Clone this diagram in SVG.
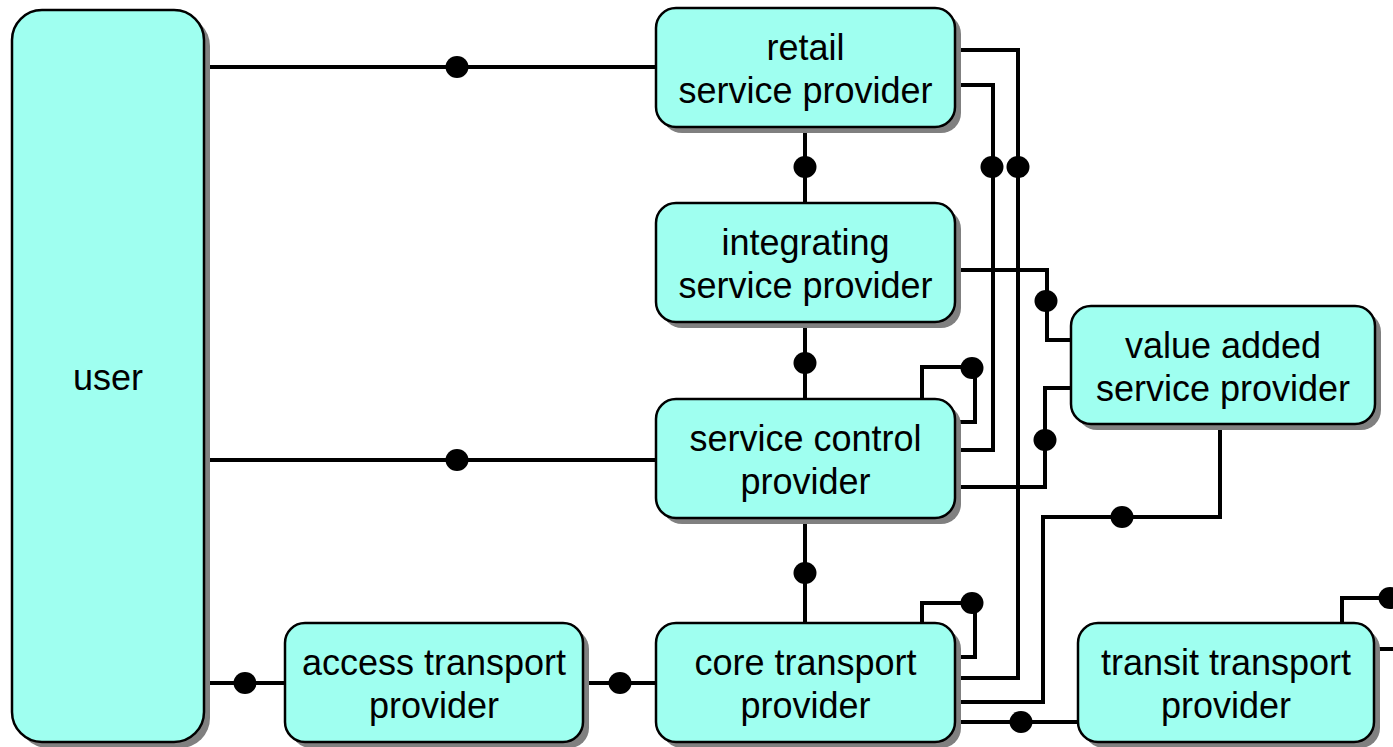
<svg xmlns="http://www.w3.org/2000/svg" width="1393" height="747" viewBox="0 0 1393 747">
<style>
.c{fill:none;stroke:#000;stroke-width:4;stroke-linejoin:miter}
.d{fill:#000}
.sh{fill:#808080}
.bx{fill:#9ffff0;stroke:#000;stroke-width:2.5}
.t{font-family:"Liberation Sans",Arial,sans-serif;font-size:36px;fill:#000;text-anchor:middle}
</style>
<rect width="1393" height="747" fill="#fff"/>
<g id="connectors">
<path class="c" d="M204,67H656"/><ellipse class="d" cx="457" cy="67" rx="11.5" ry="11"/>
<path class="c" d="M204,460H656"/><ellipse class="d" cx="457" cy="460" rx="11.5" ry="11"/>
<path class="c" d="M204,683H285"/><ellipse class="d" cx="245" cy="683" rx="11.5" ry="11"/>
<path class="c" d="M583,683H656"/><ellipse class="d" cx="620" cy="683" rx="11.5" ry="11"/>
<path class="c" d="M805,127V203"/><ellipse class="d" cx="805" cy="167" rx="11.5" ry="11"/>
<path class="c" d="M805,322V399"/><ellipse class="d" cx="805" cy="363" rx="11.5" ry="11"/>
<path class="c" d="M805,518V623"/><ellipse class="d" cx="805" cy="573" rx="11.5" ry="11"/>
<path class="c" d="M955,50H1018V678H955"/><ellipse class="d" cx="1018" cy="167" rx="11.5" ry="11"/>
<path class="c" d="M955,85H993V450H955"/><ellipse class="d" cx="992" cy="167" rx="11.5" ry="11"/>
<path class="c" d="M955,270H1047V340H1071"/><ellipse class="d" cx="1046" cy="301" rx="11.5" ry="11"/>
<path class="c" d="M955,487H1045V388H1071"/><ellipse class="d" cx="1045" cy="440" rx="11.5" ry="11"/>
<path class="c" d="M922,399V367H975V422H955"/><ellipse class="d" cx="972" cy="368" rx="11.5" ry="11"/>
<path class="c" d="M922,623V603H975V657H955"/><ellipse class="d" cx="972" cy="603" rx="11.5" ry="11"/>
<path class="c" d="M955,702H1043V517H1220V424"/><ellipse class="d" cx="1122" cy="517" rx="11.5" ry="11"/>
<path class="c" d="M955,722H1078"/><ellipse class="d" cx="1021" cy="722" rx="11.5" ry="11"/>
<path class="c" d="M1342,623V598H1396V649H1374"/><ellipse class="d" cx="1390" cy="598" rx="11.5" ry="11"/>
</g>
<g id="user">
<rect class="sh" x="18" y="16" width="192" height="732" rx="30"/>
<rect class="bx" x="12" y="10" width="192" height="732" rx="30"/>
<text class="t" x="108" y="390">user</text>
</g>
<g id="retail">
<rect class="sh" x="662" y="14" width="299" height="119" rx="20"/>
<rect class="bx" x="656" y="8" width="299" height="119" rx="20"/>
<text class="t" x="805.5" y="60">retail</text>
<text class="t" x="805.5" y="103">service provider</text>
</g>
<g id="integrating">
<rect class="sh" x="662" y="209" width="299" height="119" rx="20"/>
<rect class="bx" x="656" y="203" width="299" height="119" rx="20"/>
<text class="t" x="805.5" y="255">integrating</text>
<text class="t" x="805.5" y="298">service provider</text>
</g>
<g id="service-control">
<rect class="sh" x="662" y="405" width="299" height="119" rx="20"/>
<rect class="bx" x="656" y="399" width="299" height="119" rx="20"/>
<text class="t" x="805.5" y="451">service control</text>
<text class="t" x="805.5" y="494">provider</text>
</g>
<g id="core-transport">
<rect class="sh" x="662" y="629" width="299" height="119" rx="20"/>
<rect class="bx" x="656" y="623" width="299" height="119" rx="20"/>
<text class="t" x="805.5" y="675">core transport</text>
<text class="t" x="805.5" y="718">provider</text>
</g>
<g id="access-transport">
<rect class="sh" x="291" y="629" width="298" height="119" rx="20"/>
<rect class="bx" x="285" y="623" width="298" height="119" rx="20"/>
<text class="t" x="434" y="675">access transport</text>
<text class="t" x="434" y="718">provider</text>
</g>
<g id="value-added">
<rect class="sh" x="1077" y="312" width="304" height="118" rx="20"/>
<rect class="bx" x="1071" y="306" width="304" height="118" rx="20"/>
<text class="t" x="1223" y="358">value added</text>
<text class="t" x="1223" y="401">service provider</text>
</g>
<g id="transit-transport">
<rect class="sh" x="1084" y="629" width="296" height="119" rx="20"/>
<rect class="bx" x="1078" y="623" width="296" height="119" rx="20"/>
<text class="t" x="1226" y="675">transit transport</text>
<text class="t" x="1226" y="718">provider</text>
</g>
</svg>
